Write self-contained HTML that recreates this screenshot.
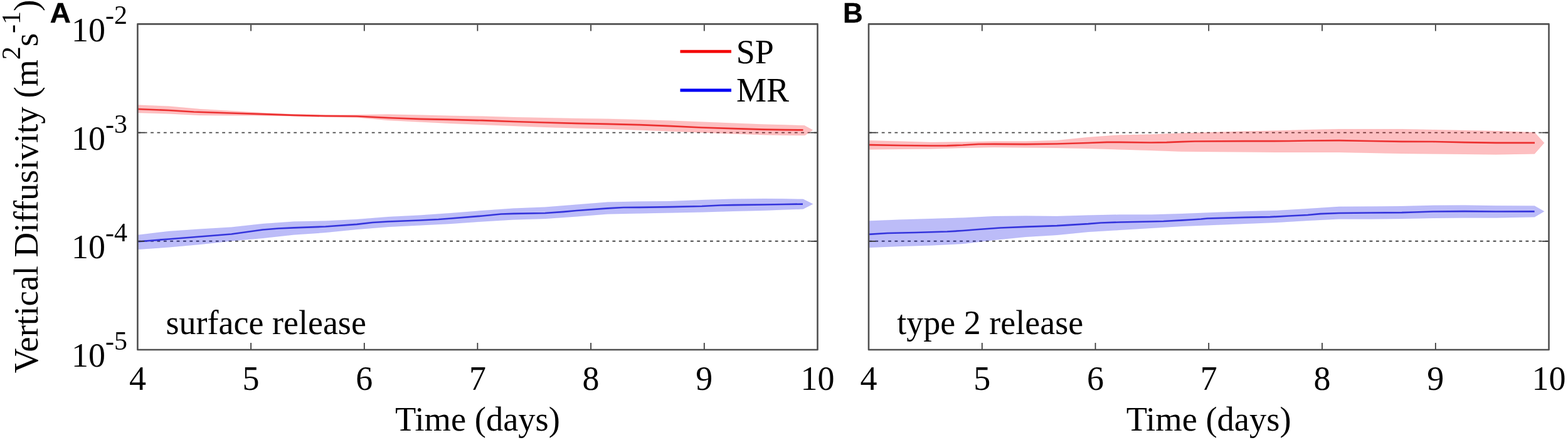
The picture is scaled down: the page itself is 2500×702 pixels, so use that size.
<!DOCTYPE html>
<html><head><meta charset="utf-8"><title>Vertical Diffusivity</title>
<style>
html,body{margin:0;padding:0;background:#fff;}
body{width:2500px;height:702px;overflow:hidden;}
svg{display:block;}
text{font-family:"Liberation Serif", "Times New Roman", serif;fill:#000;}
.lab{font-family:"Liberation Sans", Arial, sans-serif;font-weight:bold;}
</style></head><body>
<svg width="2500" height="702" viewBox="0 0 2500 702">
<rect width="2500" height="702" fill="#fff"/>

<clipPath id="clipA"><rect x="219.4" y="38.4" width="1084.1" height="519.6"/></clipPath>
<g clip-path="url(#clipA)">
<line x1="219.4" y1="211.6" x2="1303.5" y2="211.6" stroke="#484848" stroke-width="1.9" stroke-dasharray="4.8 5.571"/>
<line x1="219.4" y1="384.8" x2="1303.5" y2="384.8" stroke="#484848" stroke-width="1.9" stroke-dasharray="4.8 5.571"/>
<polygon points="219.0,167.5 269.0,169.5 319.0,174.0 369.0,177.0 419.0,180.0 469.0,182.3 519.0,183.3 569.0,183.2 619.0,182.5 669.0,183.5 719.0,184.8 769.0,185.5 819.0,187.0 869.0,188.0 919.0,189.0 969.0,189.7 1019.0,191.0 1069.0,192.5 1119.0,194.5 1169.0,196.5 1219.0,198.5 1250.0,199.3 1282.6,200.3 1295.8,207.4 1283.3,216.0 1250.0,215.7 1219.0,215.2 1169.0,213.5 1119.0,211.5 1069.0,209.5 1019.0,207.5 969.0,205.7 919.0,204.5 869.0,203.0 819.0,201.0 769.0,199.0 719.0,197.0 669.0,194.5 619.0,192.0 569.0,187.5 519.0,186.7 469.0,185.3 419.0,184.5 369.0,184.3 319.0,184.0 269.0,181.5 219.0,180.0" fill="#f80008" fill-opacity="0.25" stroke="#f80008" stroke-opacity="0.06" stroke-width="1.2" stroke-linejoin="miter"/>
<polygon points="219.0,375.0 269.0,369.0 319.0,365.5 369.0,362.5 419.0,357.0 469.0,353.5 519.0,352.5 569.0,350.0 619.0,346.0 669.0,343.5 719.0,340.0 769.0,336.0 819.0,332.5 869.0,330.5 919.0,326.5 969.0,322.5 1019.0,321.5 1069.0,321.0 1119.0,319.0 1169.0,317.5 1219.0,317.0 1250.0,317.3 1280.5,317.8 1296.1,325.6 1280.5,333.5 1250.0,334.6 1219.0,335.8 1169.0,337.0 1119.0,338.5 1069.0,339.5 1019.0,340.5 969.0,341.5 919.0,345.5 869.0,349.0 819.0,350.5 769.0,353.5 719.0,357.0 669.0,359.5 619.0,362.0 569.0,366.0 519.0,371.0 469.0,374.5 419.0,380.0 369.0,384.5 319.0,390.0 269.0,394.5 219.0,398.0" fill="#0606e6" fill-opacity="0.27" stroke="#0606e6" stroke-opacity="0.06" stroke-width="1.2" stroke-linejoin="miter"/>
<polyline points="219.0,174.0 269.0,176.0 309.0,178.5 369.0,180.5 419.0,182.2 469.0,183.8 519.0,185.0 569.0,185.5 579.0,186.0 619.0,188.0 669.0,189.8 719.0,190.9 769.0,192.2 819.0,194.0 869.0,195.5 919.0,196.8 969.0,197.8 1019.0,199.2 1069.0,201.2 1119.0,203.5 1169.0,205.2 1219.0,206.6 1250.0,207.1 1280.5,207.4" fill="none" stroke="#ec3030" stroke-width="2.7" stroke-linejoin="round" stroke-linecap="butt"/>
<polyline points="219.0,385.5 269.0,381.5 319.0,377.5 369.0,373.5 394.0,370.0 419.0,366.5 444.0,364.5 469.0,363.3 519.0,361.5 569.0,357.8 594.0,355.0 619.0,353.5 669.0,351.5 699.0,350.0 719.0,348.5 769.0,344.5 799.0,341.5 819.0,340.8 869.0,340.0 899.0,337.8 919.0,336.0 969.0,332.3 994.0,331.0 1019.0,330.8 1069.0,330.2 1119.0,329.0 1149.0,327.5 1169.0,327.2 1219.0,326.5 1250.0,326.0 1280.0,325.6" fill="none" stroke="#3434dc" stroke-width="2.7" stroke-linejoin="round" stroke-linecap="butt"/>
</g>
<path d="M219.4,38.4H1303.5V558.0H219.4Z" fill="none" stroke="#505050" stroke-width="2.6" stroke-linejoin="round"/>
<path d="M400.1,557.0v-10M400.1,39.4v10M580.8,557.0v-10M580.8,39.4v10M761.4,557.0v-10M761.4,39.4v10M942.1,557.0v-10M942.1,39.4v10M1122.8,557.0v-10M1122.8,39.4v10M220.4,211.6h10M1302.5,211.6h-10M220.4,384.8h10M1302.5,384.8h-10" fill="none" stroke="#333333" stroke-width="1.7" stroke-linecap="butt"/>
<text x="219.4" y="622.4" font-size="54" text-anchor="middle">4</text>
<text x="400.1" y="622.4" font-size="54" text-anchor="middle">5</text>
<text x="580.8" y="622.4" font-size="54" text-anchor="middle">6</text>
<text x="761.4" y="622.4" font-size="54" text-anchor="middle">7</text>
<text x="942.1" y="622.4" font-size="54" text-anchor="middle">8</text>
<text x="1122.8" y="622.4" font-size="54" text-anchor="middle">9</text>
<text x="1303.5" y="622.4" font-size="54" text-anchor="middle">10</text>
<text x="761.5" y="686.8" font-size="54.5" text-anchor="middle">Time (days)</text>
<clipPath id="clipB"><rect x="1385.0" y="38.4" width="1084.5" height="519.6"/></clipPath>
<g clip-path="url(#clipB)">
<line x1="1385.0" y1="211.6" x2="2469.5" y2="211.6" stroke="#484848" stroke-width="1.9" stroke-dasharray="4.8 5.571"/>
<line x1="1385.0" y1="384.8" x2="2469.5" y2="384.8" stroke="#484848" stroke-width="1.9" stroke-dasharray="4.8 5.571"/>
<polygon points="1385.0,224.2 1435.0,225.5 1485.0,227.0 1535.0,226.5 1585.0,225.5 1635.0,225.5 1685.0,224.0 1735.0,219.0 1785.0,215.5 1835.0,214.5 1885.0,212.5 1935.0,211.0 1985.0,209.5 2035.0,208.5 2085.0,207.0 2135.0,206.0 2185.0,206.0 2235.0,206.0 2285.0,207.0 2335.0,208.0 2385.0,209.0 2446.6,211.2 2462.0,227.9 2446.6,245.4 2385.0,246.4 2335.0,246.0 2285.0,245.5 2235.0,245.0 2185.0,244.0 2135.0,243.0 2085.0,243.0 2035.0,243.0 1985.0,242.5 1885.0,241.8 1835.0,240.0 1785.0,238.5 1735.0,237.0 1685.0,236.0 1635.0,235.5 1585.0,235.0 1535.0,236.0 1485.0,237.5 1435.0,238.0 1385.0,238.5" fill="#f80008" fill-opacity="0.25" stroke="#f80008" stroke-opacity="0.06" stroke-width="1.2" stroke-linejoin="miter"/>
<polygon points="1385.0,352.5 1435.0,350.5 1485.0,349.0 1535.0,347.5 1585.0,345.0 1635.0,344.5 1685.0,345.0 1735.0,343.5 1785.0,342.5 1835.0,342.5 1885.0,341.0 1935.0,339.0 1985.0,337.2 2035.0,336.0 2085.0,333.0 2135.0,329.8 2185.0,329.5 2235.0,329.0 2285.0,327.8 2335.0,327.5 2385.0,328.3 2446.6,328.4 2462.0,337.3 2446.6,346.3 2385.0,347.4 2335.0,347.5 2285.0,348.0 2235.0,349.0 2185.0,349.5 2135.0,349.5 2085.0,352.0 2035.0,355.0 1985.0,357.0 1935.0,359.0 1885.0,361.0 1835.0,364.0 1785.0,367.0 1735.0,370.0 1685.0,375.0 1635.0,378.0 1585.0,383.0 1535.0,389.0 1485.0,391.5 1435.0,393.0 1385.0,395.0" fill="#0606e6" fill-opacity="0.27" stroke="#0606e6" stroke-opacity="0.06" stroke-width="1.2" stroke-linejoin="miter"/>
<polyline points="1385.0,231.2 1435.0,232.0 1485.0,232.5 1510.0,232.3 1535.0,231.5 1560.0,230.0 1585.0,229.8 1635.0,230.2 1685.0,229.5 1735.0,228.0 1765.0,226.8 1785.0,226.8 1835.0,227.5 1860.0,227.2 1885.0,226.2 1905.0,225.5 1985.0,225.2 2055.0,225.0 2085.0,224.5 2135.0,224.2 2185.0,225.0 2235.0,225.8 2285.0,226.0 2335.0,227.2 2385.0,227.8 2447.0,227.9" fill="none" stroke="#ec3030" stroke-width="2.7" stroke-linejoin="round" stroke-linecap="butt"/>
<polyline points="1385.0,373.8 1415.0,372.0 1460.0,371.0 1510.0,369.5 1535.0,368.0 1560.0,366.0 1595.0,363.5 1635.0,361.8 1685.0,360.2 1735.0,357.2 1755.0,355.5 1785.0,354.5 1835.0,353.5 1855.0,353.0 1885.0,351.3 1900.0,350.5 1915.0,349.5 1925.0,348.5 1985.0,346.8 2025.0,346.2 2055.0,344.5 2085.0,343.0 2105.0,341.2 2135.0,340.0 2185.0,339.5 2235.0,339.2 2255.0,338.5 2285.0,337.5 2335.0,337.2 2385.0,337.5 2446.6,337.4" fill="none" stroke="#3434dc" stroke-width="2.7" stroke-linejoin="round" stroke-linecap="butt"/>
</g>
<path d="M1385.0,38.4H2469.5V558.0H1385.0Z" fill="none" stroke="#505050" stroke-width="2.6" stroke-linejoin="round"/>
<path d="M1565.8,557.0v-10M1565.8,39.4v10M1746.5,557.0v-10M1746.5,39.4v10M1927.2,557.0v-10M1927.2,39.4v10M2108.0,557.0v-10M2108.0,39.4v10M2288.8,557.0v-10M2288.8,39.4v10M1386.0,211.6h10M2468.5,211.6h-10M1386.0,384.8h10M2468.5,384.8h-10" fill="none" stroke="#333333" stroke-width="1.7" stroke-linecap="butt"/>
<text x="1385.0" y="622.4" font-size="54" text-anchor="middle">4</text>
<text x="1565.8" y="622.4" font-size="54" text-anchor="middle">5</text>
<text x="1746.5" y="622.4" font-size="54" text-anchor="middle">6</text>
<text x="1927.2" y="622.4" font-size="54" text-anchor="middle">7</text>
<text x="2108.0" y="622.4" font-size="54" text-anchor="middle">8</text>
<text x="2288.8" y="622.4" font-size="54" text-anchor="middle">9</text>
<text x="2469.5" y="622.4" font-size="54" text-anchor="middle">10</text>
<text x="1927.2" y="686.8" font-size="54.5" text-anchor="middle">Time (days)</text>
<text x="114.1" y="65.8" font-size="54">10<tspan font-size="42" dy="-27.4">-2</tspan></text>
<text x="114.1" y="239.0" font-size="54">10<tspan font-size="42" dy="-27.4">-3</tspan></text>
<text x="114.1" y="412.2" font-size="54">10<tspan font-size="42" dy="-27.4">-4</tspan></text>
<text x="114.1" y="585.4" font-size="54">10<tspan font-size="42" dy="-27.4">-5</tspan></text>
<text x="264.6" y="533.2" font-size="54">surface release</text>
<text x="1430.3" y="533.2" font-size="54">type 2 release</text>
<line x1="1084.5" y1="82.2" x2="1166" y2="82.2" stroke="#f40000" stroke-width="4.8"/>
<line x1="1084.5" y1="144" x2="1166" y2="144" stroke="#0000f4" stroke-width="4.8"/>
<text x="1173.8" y="101" font-size="54">SP</text>
<text x="1174" y="162" font-size="54">MR</text>
<text transform="translate(60.3,595.3) rotate(-90)" font-size="55">Vertical Diffusivity (m<tspan font-size="42" dy="-28.5">2</tspan><tspan dy="28.5">s</tspan><tspan font-size="42" dy="-28.5">-1</tspan><tspan dy="28.5">)</tspan></text>
<text class="lab" transform="translate(79.8,35.8) scale(1.04,1)" x="0" y="0" font-size="44" stroke="#000" stroke-width="0.5">A</text>
<text class="lab" transform="translate(1344,35.6)" x="0" y="0" font-size="44" stroke="#000" stroke-width="0.3">B</text>
</svg>
</body></html>
